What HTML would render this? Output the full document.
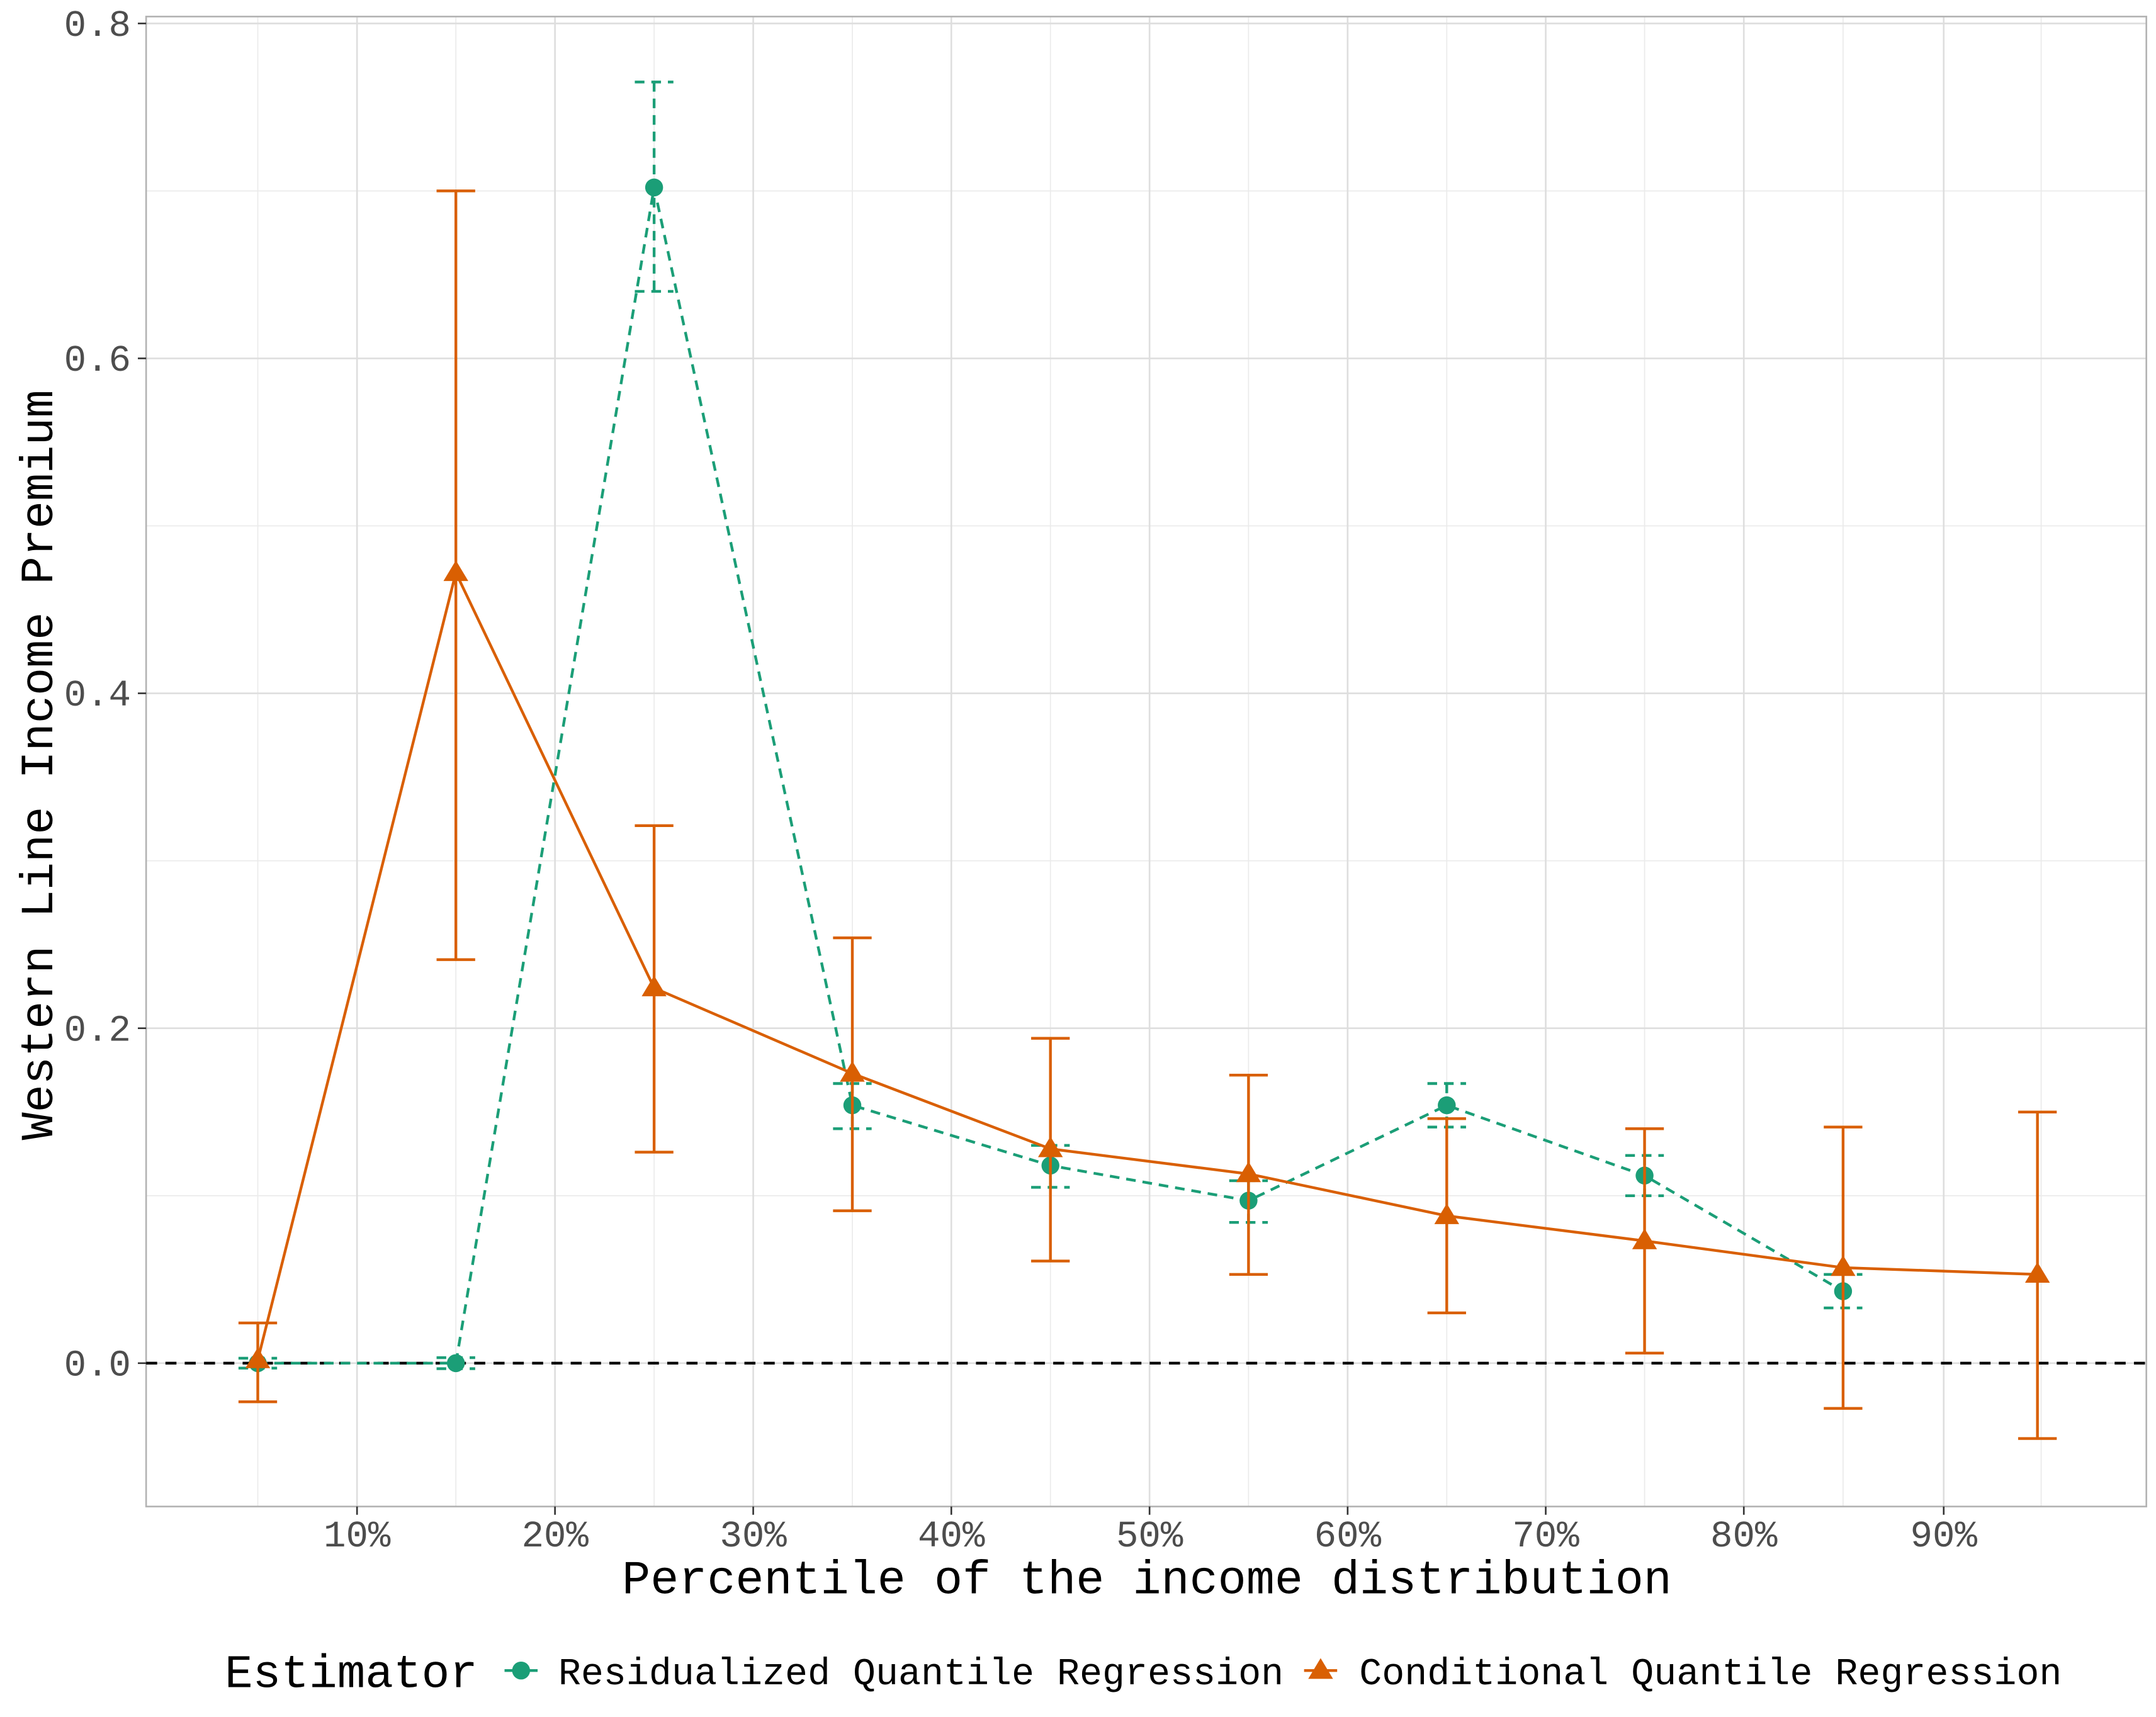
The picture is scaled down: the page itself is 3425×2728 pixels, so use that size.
<!DOCTYPE html>
<html><head><meta charset="utf-8"><style>html,body{margin:0;padding:0;background:#fff}svg{display:block}</style></head>
<body>
<svg width="3425" height="2728" viewBox="0 0 1564 1245.7" xmlns="http://www.w3.org/2000/svg" font-family="Liberation Mono, DejaVu Sans Mono, monospace">
<rect width="1564" height="1245.7" fill="#fff"/>
<g stroke="#ebebeb" stroke-width="0.8">
<line x1="106" x2="1557" y1="867.5" y2="867.5"/><line x1="106" x2="1557" y1="624.5" y2="624.5"/><line x1="106" x2="1557" y1="381.5" y2="381.5"/><line x1="106" x2="1557" y1="138.5" y2="138.5"/>
<line x1="187" x2="187" y1="12" y2="1093"/><line x1="330.7" x2="330.7" y1="12" y2="1093"/><line x1="474.5" x2="474.5" y1="12" y2="1093"/><line x1="618.3" x2="618.3" y1="12" y2="1093"/><line x1="762" x2="762" y1="12" y2="1093"/><line x1="905.7" x2="905.7" y1="12" y2="1093"/><line x1="1049.5" x2="1049.5" y1="12" y2="1093"/><line x1="1193" x2="1193" y1="12" y2="1093"/><line x1="1337" x2="1337" y1="12" y2="1093"/><line x1="1480.7" x2="1480.7" y1="12" y2="1093"/>
</g>
<g stroke="#dedede" stroke-width="1.2">
<line x1="106" x2="1557" y1="989" y2="989"/><line x1="106" x2="1557" y1="746" y2="746"/><line x1="106" x2="1557" y1="503" y2="503"/><line x1="106" x2="1557" y1="260" y2="260"/><line x1="106" x2="1557" y1="17" y2="17"/>
<line x1="259" x2="259" y1="12" y2="1093"/><line x1="402.6" x2="402.6" y1="12" y2="1093"/><line x1="546.4" x2="546.4" y1="12" y2="1093"/><line x1="690.1" x2="690.1" y1="12" y2="1093"/><line x1="833.9" x2="833.9" y1="12" y2="1093"/><line x1="977.6" x2="977.6" y1="12" y2="1093"/><line x1="1121.3" x2="1121.3" y1="12" y2="1093"/><line x1="1265" x2="1265" y1="12" y2="1093"/><line x1="1410" x2="1410" y1="12" y2="1093"/>
</g>
<rect x="106" y="12" width="1451" height="1081" fill="none" stroke="#b3b3b3" stroke-width="1.2"/>
<line x1="106" x2="1557" y1="989" y2="989" stroke="#000" stroke-width="2" stroke-dasharray="8,6"/>
<g stroke="#1B9E77" stroke-width="2" fill="none" stroke-dasharray="7,5">
<polyline points="187,989 330.7,989 474.5,136 618.3,801.9 762,845.6 905.7,871.1 1049.5,801.9 1193,852.9 1337,936.8"/>
<path d="M187,985.4V992.6M173,985.4H201M173,992.6H201 M330.7,985V993M316.7,985H344.7M316.7,993H344.7 M474.5,59.5V211.4M460.5,59.5H488.5M460.5,211.4H488.5 M618.3,786.1V818.9M604.3,786.1H632.3M604.3,818.9H632.3 M762,831V861.4M748,831H776M748,861.4H776 M905.7,856.6V886.9M891.7,856.6H919.7M891.7,886.9H919.7 M1049.5,786.1V817.7M1035.5,786.1H1063.5M1035.5,817.7H1063.5 M1193,838.3V867.5M1179,838.3H1207M1179,867.5H1207 M1337,924.6V948.9M1323,924.6H1351M1323,948.9H1351"/>
</g>
<g fill="#1B9E77">
<circle cx="187" cy="989" r="6.5"/><circle cx="330.7" cy="989" r="6.5"/><circle cx="474.5" cy="136" r="6.5"/><circle cx="618.3" cy="801.9" r="6.5"/><circle cx="762" cy="845.6" r="6.5"/><circle cx="905.7" cy="871.1" r="6.5"/><circle cx="1049.5" cy="801.9" r="6.5"/><circle cx="1193" cy="852.9" r="6.5"/><circle cx="1337" cy="936.8" r="6.5"/>
</g>
<g stroke="#D95F02" stroke-width="2" fill="none">
<polyline points="187,986.6 330.7,415.5 474.5,716.8 618.3,778.8 762,833.5 905.7,851.7 1049.5,882.1 1193,900.3 1337,919.7 1478,924.6"/>
<path d="M187,959.8V1017M173,959.8H201M173,1017H201 M330.7,138.5V696.2M316.7,138.5H344.7M316.7,696.2H344.7 M474.5,599V835.9M460.5,599H488.5M460.5,835.9H488.5 M618.3,680.4V878.4M604.3,680.4H632.3M604.3,878.4H632.3 M762,753.3V914.9M748,753.3H776M748,914.9H776 M905.7,780V924.6M891.7,780H919.7M891.7,924.6H919.7 M1049.5,811.6V952.5M1035.5,811.6H1063.5M1035.5,952.5H1063.5 M1193,818.9V981.7M1179,818.9H1207M1179,981.7H1207 M1337,817.7V1021.8M1323,817.7H1351M1323,1021.8H1351 M1478,806.8V1043.7M1464,806.8H1492M1464,1043.7H1492"/>
</g>
<g fill="#D95F02">
<path d="M187,977.6l9,15h-18z M330.7,406.5l9,15h-18z M474.5,707.8l9,15h-18z M618.3,769.8l9,15h-18z M762,824.5l9,15h-18z M905.7,842.7l9,15h-18z M1049.5,873.1l9,15h-18z M1193,891.3l9,15h-18z M1337,910.7l9,15h-18z M1478,915.6l9,15h-18z"/>
</g>
<g stroke="#333" stroke-width="1.2">
<line x1="100" x2="106" y1="989" y2="989"/><line x1="100" x2="106" y1="746" y2="746"/><line x1="100" x2="106" y1="503" y2="503"/><line x1="100" x2="106" y1="260" y2="260"/><line x1="100" x2="106" y1="17" y2="17"/>
<line x1="259" x2="259" y1="1093" y2="1099"/><line x1="402.6" x2="402.6" y1="1093" y2="1099"/><line x1="546.4" x2="546.4" y1="1093" y2="1099"/><line x1="690.1" x2="690.1" y1="1093" y2="1099"/><line x1="833.9" x2="833.9" y1="1093" y2="1099"/><line x1="977.6" x2="977.6" y1="1093" y2="1099"/><line x1="1121.3" x2="1121.3" y1="1093" y2="1099"/><line x1="1265" x2="1265" y1="1093" y2="1099"/><line x1="1410" x2="1410" y1="1093" y2="1099"/>
</g>
<g fill="#4d4d4d" font-size="27" text-anchor="end">
<text x="95" y="998">0.0</text><text x="95" y="755">0.2</text><text x="95" y="512">0.4</text><text x="95" y="269">0.6</text><text x="95" y="26">0.8</text>
</g>
<g fill="#4d4d4d" font-size="27" text-anchor="middle">
<text x="259" y="1122">10%</text><text x="402.6" y="1122">20%</text><text x="546.4" y="1122">30%</text><text x="690.1" y="1122">40%</text><text x="833.9" y="1122">50%</text><text x="977.6" y="1122">60%</text><text x="1121.3" y="1122">70%</text><text x="1265" y="1122">80%</text><text x="1410" y="1122">90%</text>
</g>
<text x="832" y="1156" font-size="34.3" text-anchor="middle" fill="#000">Percentile of the income distribution</text>
<text transform="translate(38,555) rotate(-90)" font-size="33.6" text-anchor="middle" fill="#000">Western Line Income Premium</text>
<text x="163" y="1224" font-size="34" fill="#000">Estimator</text>
<line x1="366" x2="390" y1="1212" y2="1212" stroke="#1B9E77" stroke-width="2"/><circle cx="378" cy="1212" r="6.5" fill="#1B9E77"/>
<text x="405" y="1222" font-size="27.4" fill="#000">Residualized Quantile Regression</text>
<line x1="946" x2="970" y1="1212" y2="1212" stroke="#D95F02" stroke-width="2"/><path d="M958,1203l9,15h-18z" fill="#D95F02"/>
<text x="986" y="1222" font-size="27.4" fill="#000">Conditional Quantile Regression</text>
</svg>
</body></html>
